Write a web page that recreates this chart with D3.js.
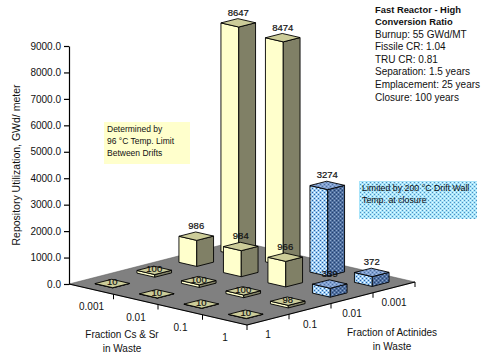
<!DOCTYPE html>
<html>
<head>
<meta charset="utf-8">
<script src="https://cdnjs.cloudflare.com/ajax/libs/d3/7.8.5/d3.min.js"></script>
<style>
    body { margin: 0; background: #fff; }
    text { font-family: "Liberation Sans", Arial, sans-serif; fill: #111; }
</style>
</head>
<body>
<div id="chart"></div>
<script>
// chart values
var csFractions = ['0.001', '0.01', '0.1', '1'];
var actinideFractions = ['1', '0.1', '0.01', '0.001'];

// one row per actinide fraction, one entry per Cs & Sr fraction
var utilAct1 = [10, 10, 10, 10];
var utilAct01 = [100, 100, 100, 98];
var utilAct001 = [986, 984, 966, 339];
var utilAct0001 = [8647, 8474, 3274, 372];

// 1 = limited by drift wall temperature (blue bars)
var wallAct1 = [0, 0, 0, 0];
var wallAct01 = [0, 0, 0, 0];
var wallAct001 = [0, 0, 0, 1];
var wallAct0001 = [0, 0, 1, 1];

var yTicks = [0, 1000, 2000, 3000, 4000, 5000, 6000, 7000, 8000, 9000];

var titleLines = ['Fast Reactor - High', 'Conversion Ratio'];
var infoLines = ['Burnup: 55 GWd/MT', 'Fissile CR: 1.04', 'TRU CR: 0.81', 'Separation: 1.5 years', 'Emplacement: 25 years', 'Closure: 100 years'];
var thermalNote = ['Determined by', '96 \u00B0C Temp. Limit', 'Between Drifts'];
var wallNote = ['Limited by  200 \u00B0C Drift Wall', 'Temp. at closure'];

var utilRows = [utilAct1, utilAct01, utilAct001, utilAct0001];
var wallRows = [wallAct1, wallAct01, wallAct001, wallAct0001];

var width = 485, height = 360;

var svg = d3.select('#chart').append('svg')
    .attr('width', width)
    .attr('height', height);

// height scale, the floor sits at value 0
var yScale = d3.scaleLinear().domain([0, 9000]).range([284, 46]);

// floor axes: screen offset along each of the two slanted edges
var csX = d3.scaleLinear().domain([0, 4]).range([0, 178]);
var csY = d3.scaleLinear().domain([0, 4]).range([0, 41]);
var actX = d3.scaleLinear().domain([0, 4]).range([0, 168]);
var actY = d3.scaleLinear().domain([0, 4]).range([0, -43]);

var originX = 69;

function px(i, j) {
    return originX + csX(i) + actX(j);
}

function py(i, j, v) {
    return yScale(v || 0) + csY(i) + actY(j);
}

function poly(points) {
    return points.map(function (p) { return p[0] + ',' + p[1]; }).join(' ');
}

// dither patterns for the blue marks
var defs = svg.append('defs');

function addDither(id, base, light, dark) {
    var p = defs.append('pattern')
        .attr('id', id)
        .attr('width', 4)
        .attr('height', 4)
        .attr('patternUnits', 'userSpaceOnUse');
    p.append('rect').attr('width', 4).attr('height', 4).attr('fill', base);
    p.append('rect').attr('x', 0).attr('y', 0).attr('width', 1).attr('height', 1).attr('fill', dark);
    p.append('rect').attr('x', 2).attr('y', 2).attr('width', 1).attr('height', 1).attr('fill', dark);
    p.append('rect').attr('x', 2).attr('y', 0).attr('width', 1).attr('height', 1).attr('fill', light);
    p.append('rect').attr('x', 0).attr('y', 2).attr('width', 1).attr('height', 1).attr('fill', light);
}

addDither('blueLeft', '#9cccf4', '#ffffff', '#2f5f9f');
addDither('blueRight', '#4f6f9f', '#8fa8cc', '#24406f');
addDither('blueTop', '#7f9fd0', '#a8c0e4', '#4f6f9f');
addDither('blueNote', '#a8e4fa', '#e8fbff', '#4f8fc0');

// floor
svg.append('polygon')
    .attr('points', poly([[px(0, 0), py(0, 0)], [px(4, 0), py(4, 0)], [px(4, 4), py(4, 4)], [px(0, 4), py(0, 4)]]))
    .attr('fill', '#808080')
    .attr('stroke', '#555')
    .attr('stroke-width', 0.5);

svg.append('polyline')
    .attr('points', poly([[px(0, 0), py(0, 0)], [px(4, 0), py(4, 0)], [px(4, 4), py(4, 4)]]))
    .attr('fill', 'none')
    .attr('stroke', '#000')
    .attr('stroke-width', 1.2);

// floor ticks and their labels
csFractions.forEach(function (label, i) {
    svg.append('line')
        .attr('x1', px(i + 1, 0)).attr('x2', px(i + 1, 0))
        .attr('y1', py(i + 1, 0)).attr('y2', py(i + 1, 0) + 5)
        .attr('stroke', '#000');
    svg.append('text')
        .attr('x', px(i + 1, 0) - 22)
        .attr('y', py(i + 1, 0) + 16)
        .attr('text-anchor', 'middle')
        .attr('font-size', 10)
        .text(label);
});

actinideFractions.forEach(function (label, j) {
    svg.append('line')
        .attr('x1', px(4, j + 1)).attr('x2', px(4, j + 1))
        .attr('y1', py(4, j + 1)).attr('y2', py(4, j + 1) + 5)
        .attr('stroke', '#000');
    svg.append('text')
        .attr('x', px(4, j + 1) - 21)
        .attr('y', py(4, j + 1) + 24)
        .attr('text-anchor', 'middle')
        .attr('font-size', 10)
        .text(label);
});

// y axis
var yAxis = d3.axisLeft(yScale)
    .tickValues(yTicks)
    .tickSize(5)
    .tickSizeOuter(0)
    .tickFormat(d3.format('.1f'));

var yG = svg.append('g')
    .attr('transform', 'translate(' + originX + ',0)')
    .call(yAxis);
yG.selectAll('text').attr('font-size', 10).attr('font-family', '"Liberation Sans"').attr('fill', '#111');
yG.selectAll('path, line').attr('stroke', '#000').attr('stroke-width', 1.2);

// bars, back to front
var barHalf = 0.2;  // half of the bar footprint, in cells
var labels = [];

function drawBar(i, j) {
    var v = utilRows[j][i];
    var blue = wallRows[j][i] === 1;
    var ci = i + 0.5, cj = j + 0.5;
    var h = barHalf;

    var left = [ci - h, cj - h], front = [ci + h, cj - h], right = [ci + h, cj + h], back = [ci - h, cj + h];

    function base(c) { return [px(c[0], c[1]), py(c[0], c[1])]; }
    function top(c) { return [px(c[0], c[1]), py(c[0], c[1], v)]; }

    function face(points, fill) {
        svg.append('polygon')
            .attr('points', poly(points))
            .attr('fill', fill)
            .attr('stroke', '#000')
            .attr('stroke-width', 0.9)
            .attr('stroke-linejoin', 'round');
    }

    face([top(left), top(front), base(front), base(left)], blue ? 'url(#blueLeft)' : '#ffffcc');
    face([top(front), top(right), base(right), base(front)], blue ? 'url(#blueRight)' : '#808066');
    face([top(left), top(front), top(right), top(back)], blue ? 'url(#blueTop)' : '#cccc99');

    labels.push({ x: px(ci, cj), y: py(ci, cj, v), v: v });
}

for (var j = 3; j >= 0; j--) {
    for (var i = 0; i < 4; i++) {
        drawBar(i, j);
    }
}

// value labels go on top of every bar
svg.selectAll('.val')
    .data(labels)
    .enter().append('text')
    .attr('class', 'val')
    .attr('x', function (d) { return d.x; })
    .attr('y', function (d) { return d.v > 200 ? d.y - 7 : d.y + 2; })
    .attr('text-anchor', 'middle')
    .attr('font-size', 9.5)
    .attr('stroke', '#111')
    .attr('stroke-width', 0.2)
    .text(function (d) { return d.v; });

// axis titles
svg.append('text')
    .attr('transform', 'translate(20,165) rotate(-90)')
    .attr('text-anchor', 'middle')
    .attr('font-size', 10.5)
    .text('Repository Utilization, GWd/ meter');

function centredLines(lines, x, y, step) {
    lines.forEach(function (t, k) {
        svg.append('text')
            .attr('x', x)
            .attr('y', y + k * step)
            .attr('text-anchor', 'middle')
            .attr('font-size', 10)
            .text(t);
    });
}

centredLines(['Fraction Cs & Sr', 'in Waste'], 122, 338, 14);
centredLines(['Fraction of Actinides', 'in Waste'], 392, 336, 14);

// run info, top right
titleLines.forEach(function (t, k) {
    svg.append('text')
        .attr('x', 375)
        .attr('y', 12.5 + k * 12.6)
        .attr('font-size', 9.4)
        .attr('font-weight', 'bold')
        .text(t);
});

infoLines.forEach(function (t, k) {
    svg.append('text')
        .attr('x', 375)
        .attr('y', 37.5 + k * 12.6)
        .attr('font-size', 10)
        .text(t);
});

// note boxes
function noteBox(x, y, w, h, fill, lines, size) {
    svg.append('rect')
        .attr('x', x).attr('y', y)
        .attr('width', w).attr('height', h)
        .attr('fill', fill);
    lines.forEach(function (t, k) {
        svg.append('text')
            .attr('x', x + 3)
            .attr('y', y + 10 + k * 12)
            .attr('font-size', size)
            .text(t);
    });
}

noteBox(104, 122, 86, 42, '#ffffcc', thermalNote, 8.5);
noteBox(359, 181, 118, 38, 'url(#blueNote)', wallNote, 8.8);
</script>
</body>
</html>
